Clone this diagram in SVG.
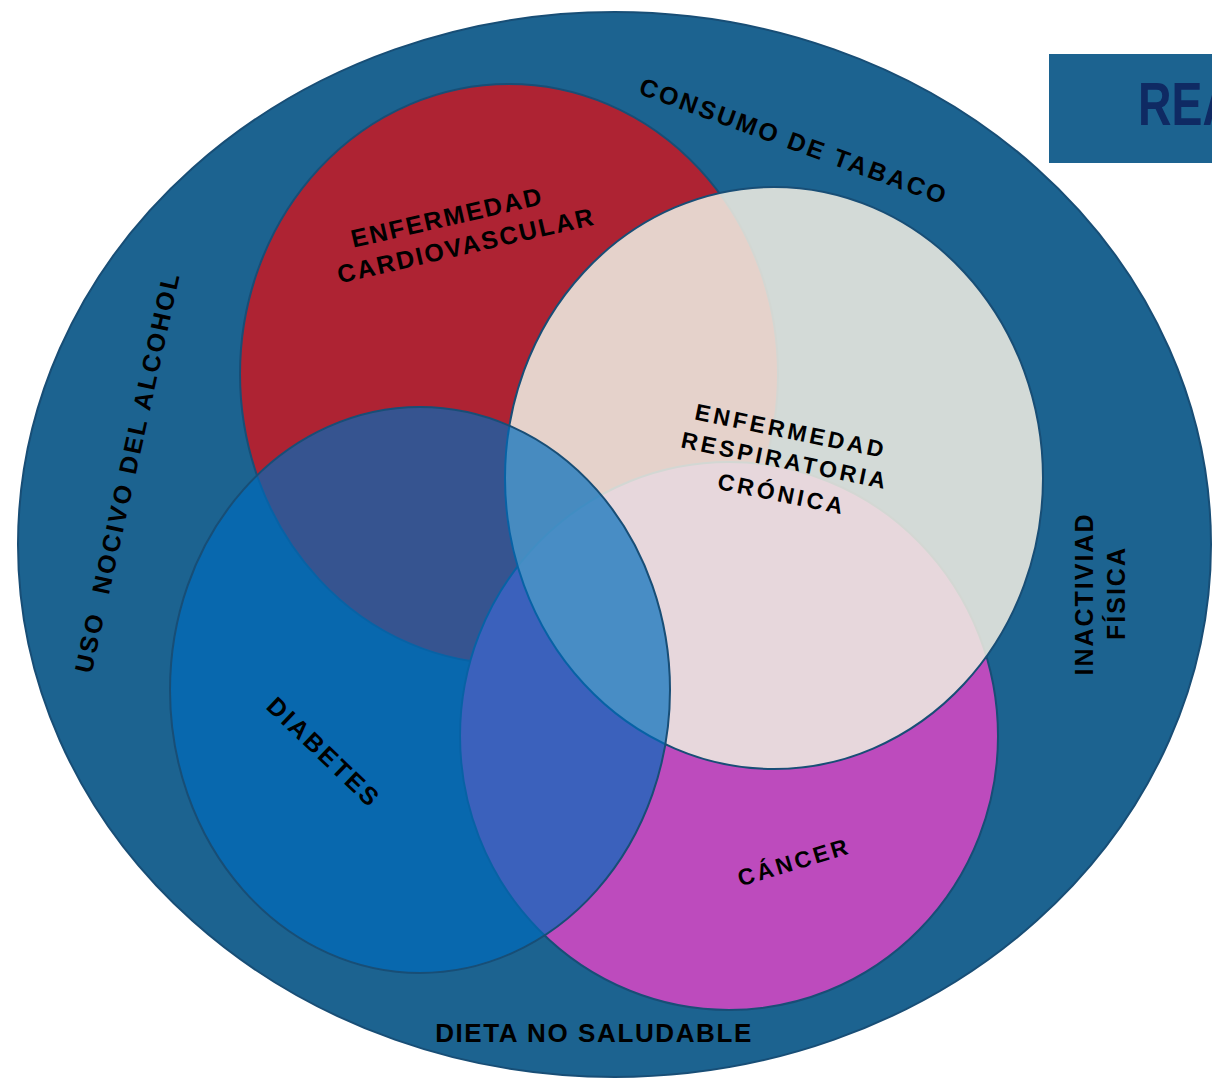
<svg xmlns="http://www.w3.org/2000/svg" width="1212" height="1078" viewBox="0 0 1212 1078">
<style>
.lbl{font-family:"Liberation Sans",Arial,sans-serif;font-weight:bold;fill:#000;text-anchor:middle;}
.ring{stroke:#184e76;stroke-width:2;}
</style>
<rect width="1212" height="1078" fill="#ffffff"/>
<g id="outer">
<ellipse class="ring" cx="614.5" cy="544.5" rx="596.5" ry="532.5" fill="#1c6390"/>
</g>
<g id="banner">
<rect x="1049" y="54" width="170" height="109" fill="#1c6390"/>
<text transform="translate(1138,125) scale(0.76,1)" x="0" y="0" style="font-family:'Liberation Sans',Arial,sans-serif;font-weight:bold;font-size:61px;fill:#0f2a63">REA</text>
</g>
<g id="cardio">
<ellipse class="ring" cx="509" cy="374" rx="269" ry="290" fill="#ae2333"/>
</g>
<g id="cancer">
<ellipse class="ring" cx="729" cy="736" rx="269" ry="274" fill="#bd4bbd"/>
</g>
<g id="respiratoria">
<ellipse class="ring" cx="774" cy="478" rx="269" ry="291" fill="rgb(237,234,224)" fill-opacity="0.88"/>
</g>
<g id="diabetes">
<ellipse class="ring" cx="420" cy="690" rx="250" ry="283" fill="#006bbb" fill-opacity="0.69"/>
</g>
<g id="labels">
<text class="lbl" transform="translate(794,141) rotate(20)" x="0" y="9" style="font-size:25px;letter-spacing:2.5px">CONSUMO DE TABACO</text>
<text class="lbl" transform="translate(447,217) rotate(-13)" x="0" y="9" style="font-size:25px;letter-spacing:2px">ENFERMEDAD</text>
<text class="lbl" transform="translate(466,245) rotate(-13)" x="0" y="9" style="font-size:25px;letter-spacing:2px">CARDIOVASCULAR</text>
<text class="lbl" transform="translate(791,431) rotate(11.5)" x="0" y="8" style="font-size:23px;letter-spacing:3.3px">ENFERMEDAD</text>
<text class="lbl" transform="translate(785,460.5) rotate(11.5)" x="0" y="8" style="font-size:23px;letter-spacing:3.3px">RESPIRATORIA</text>
<text class="lbl" transform="translate(782,494) rotate(11.5)" x="0" y="8" style="font-size:23px;letter-spacing:3.3px">CRÓNICA</text>
<text class="lbl" transform="translate(127,472) rotate(-77.5)" x="0" y="9" style="font-size:25px;letter-spacing:2.5px;white-space:pre">USO  NOCIVO DEL ALCOHOL</text>
<text class="lbl" transform="translate(1093,594) rotate(-90)" x="0" y="0" style="font-size:25px;letter-spacing:2px">INACTIVIAD</text>
<text class="lbl" transform="translate(1125,593) rotate(-90)" x="0" y="0" style="font-size:25px;letter-spacing:2px">FÍSICA</text>
<text class="lbl" transform="translate(324,752) rotate(43.8)" x="0" y="9" style="font-size:25px;letter-spacing:2.5px">DIABETES</text>
<text class="lbl" transform="translate(794,862) rotate(-16.7)" x="0" y="8" style="font-size:23px;letter-spacing:3px">CÁNCER</text>
<text class="lbl" x="594" y="1042" style="font-size:26px;letter-spacing:1.6px">DIETA NO SALUDABLE</text>
</g>
</svg>
